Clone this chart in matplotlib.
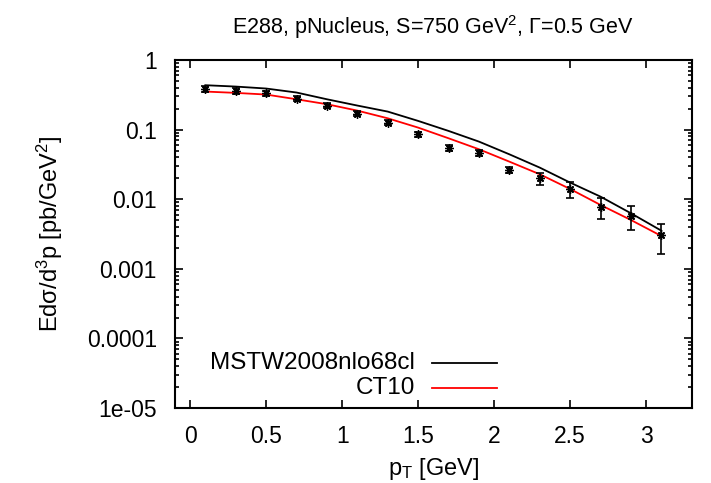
import numpy as np
import matplotlib
matplotlib.use("Agg")
import matplotlib.pyplot as plt
from matplotlib.ticker import LogLocator, NullFormatter, FixedLocator

plt.rcParams['font.family'] = ['Liberation Sans', 'DejaVu Sans']
plt.rcParams['mathtext.fontset'] = 'custom'
plt.rcParams['mathtext.rm'] = 'Liberation Sans'
plt.rcParams['mathtext.it'] = 'Liberation Sans'

# E288 data
pt = [0.1, 0.3, 0.5, 0.7, 0.9, 1.1, 1.3, 1.5, 1.7, 1.9, 2.1, 2.3, 2.5, 2.7, 2.9, 3.1]
xsec = [0.383, 0.359, 0.332, 0.278, 0.221, 0.169, 0.126, 0.0855, 0.0544, 0.0461,
        0.0266, 0.0200, 0.0140, 0.0078, 0.0058, 0.00306]
err = [0.034, 0.031, 0.028, 0.024, 0.019, 0.015, 0.011, 0.0078, 0.0050, 0.0043,
       0.0026, 0.0040, 0.0037, 0.0026, 0.0022, 0.0014]

# theory curves
mstw = [0.433, 0.414, 0.388, 0.340, 0.272, 0.221, 0.181, 0.133, 0.0955, 0.0671,
        0.0441, 0.0284, 0.0173, 0.01087, 0.00627, 0.00353]
ct10 = [0.351, 0.336, 0.318, 0.272, 0.231, 0.187, 0.145, 0.1066, 0.0749, 0.0521,
        0.0346, 0.0228, 0.0140, 0.00826, 0.00502, 0.00296]

labels = ['MSTW2008nlo68cl', 'CT10']
colors = ['black', 'red']

fig = plt.figure(figsize=(7.11, 4.83), dpi=100)
ax = fig.add_axes([0.246, 0.155, 0.727, 0.721])

ax.plot(pt, mstw, color=colors[0], lw=1.3)
ax.plot(pt, ct10, color=colors[1], lw=1.3)
ax.errorbar(pt, xsec, yerr=err, fmt='none', ecolor='black', elinewidth=1.2,
            capsize=3, capthick=1.2)
ax.plot(pt, xsec, ls='none', marker=(8, 2, 0), ms=6, mec='black', mew=1.0,
        color='black')

ax.set_yscale('log')
ax.set_xlim(-0.1, 3.3)
ax.set_ylim(1e-5, 1)
ax.xaxis.set_major_locator(FixedLocator([0, 0.5, 1, 1.5, 2, 2.5, 3]))
ax.set_xticklabels(['0', '0.5', '1', '1.5', '2', '2.5', '3'])
ax.yaxis.set_major_locator(FixedLocator([1e-5, 1e-4, 1e-3, 1e-2, 1e-1, 1]))
ax.set_yticklabels(['1e-05', '0.0001', '0.001', '0.01', '0.1', '1'])
ax.yaxis.set_minor_locator(LogLocator(base=10, subs=np.arange(2, 10), numticks=20))
ax.yaxis.set_minor_formatter(NullFormatter())

ax.tick_params(which='both', direction='in', top=True, right=True, width=1.2,
               labelsize=16.5)
ax.tick_params(axis='y', pad=13)
ax.tick_params(axis='x', pad=12)
ax.tick_params(which='major', length=6)
ax.tick_params(which='minor', length=3)
for s in ax.spines.values():
    s.set_linewidth(1.5)

ax.set_xlabel(r'p$_\mathrm{T}$ [GeV]', fontsize=17, labelpad=6)
ax.set_ylabel(r'Ed$\sigma$/d$^3$p [pb/GeV$^2$]', fontsize=17, labelpad=16)
ax.set_title(r'E288, pNucleus, S=750 GeV$^2$, $\Gamma$=0.5 GeV', fontsize=15.5, pad=19)

# legend, gnuplot style: right-aligned text, then the line sample
for i, (lab, c) in enumerate(zip(labels, colors)):
    yy = 0.129 - i * 0.072
    ax.text(0.464, yy, lab, transform=ax.transAxes, ha='right', va='center',
            fontsize=17.5)
    ax.plot([0.497, 0.623], [yy, yy], transform=ax.transAxes, color=c, lw=1.3)

fig.savefig('out.png', dpi=100)
